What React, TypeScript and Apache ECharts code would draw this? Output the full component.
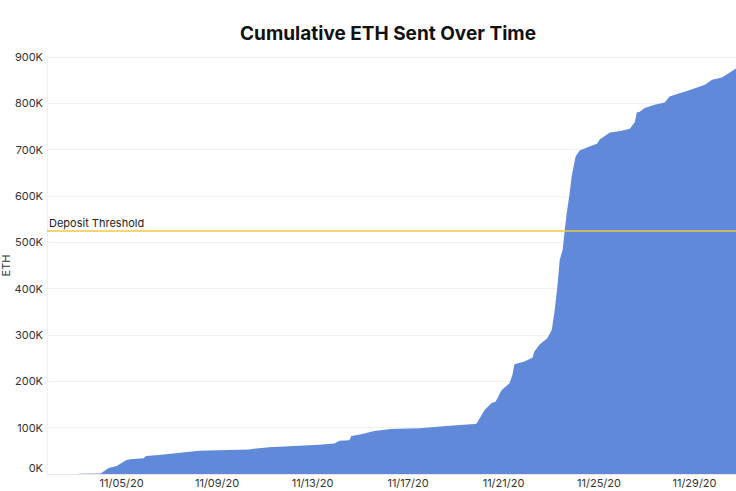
import { useEffect, useRef } from 'react';
import * as echarts from 'echarts';

// sample times (UTC, Nov 2020) and cumulative ETH
const times = [
  '11-03 05:00', '11-04 03:00', '11-04 11:00', '11-04 19:00', '11-05 05:00',
  '11-05 09:00', '11-05 22:00', '11-06 00:30', '11-06 13:30', '11-08 06:00',
  '11-10 08:00', '11-11 04:00', '11-13 07:00', '11-13 22:00', '11-14 03:00',
  '11-14 13:00', '11-14 15:00', '11-15 01:00', '11-15 14:00', '11-16 07:00',
  '11-16 15:00', '11-17 11:30', '11-18 18:00', '11-19 19:00', '11-19 21:00',
  '11-20 05:00', '11-20 12:00', '11-20 16:00', '11-20 22:00', '11-21 06:00',
  '11-21 09:00', '11-21 11:00', '11-21 21:00', '11-22 05:00', '11-22 07:00',
  '11-22 12:00', '11-22 20:00', '11-23 00:30', '11-23 03:30', '11-23 06:30',
  '11-23 08:30', '11-23 11:30', '11-23 13:30', '11-23 15:30', '11-23 18:30',
  '11-23 20:30', '11-24 00:30', '11-24 04:30', '11-24 14:30', '11-24 22:00',
  '11-25 00:45', '11-25 11:00', '11-25 23:00', '11-26 07:00', '11-26 12:00',
  '11-26 14:00', '11-26 17:00', '11-26 22:00', '11-27 08:00', '11-27 18:00',
  '11-27 23:00', '11-28 09:00', '11-28 19:30', '11-29 10:30', '11-29 17:45',
  '11-30 03:30', '11-30 09:30', '11-30 17:45',
];

const ethSent = [
  800, 1000, 13000, 17000, 30000,
  32000, 34000, 39000, 41000, 50000,
  53000, 58000, 63000, 66000, 72000,
  73000, 82000, 86000, 93000, 97000,
  97500, 99000, 104000, 108000, 109000,
  138000, 153000, 156000, 181000, 196000,
  214000, 237000, 243000, 251000, 264000,
  279000, 293000, 311000, 354000, 412000,
  462000, 484000, 525000, 563000, 606000,
  642000, 685000, 698000, 707000, 713000,
  722000, 737000, 741000, 745000, 759000,
  780000, 782000, 790000, 797000, 802000,
  815000, 822000, 829000, 840000, 851000,
  856000, 864000, 875000,
];

const tickDates = ['11-05', '11-09', '11-13', '11-17', '11-21', '11-25', '11-29'];
const yTicks = [0, 100000, 200000, 300000, 400000, 500000, 600000, 700000, 800000, 900000];
const DEPOSIT_THRESHOLD = 524288;

const toMs = (s: string) => {
  const [md, hm = '00:00'] = s.split(' ');
  const [mo, d] = md.split('-').map(Number);
  const [h, mi] = hm.split(':').map(Number);
  return Date.UTC(2020, mo - 1, d, h, mi);
};

const fmtDate = (v: number) => {
  const d = new Date(v);
  const mm = String(d.getUTCMonth() + 1).padStart(2, '0');
  const dd = String(d.getUTCDate()).padStart(2, '0');
  return `${mm}/${dd}/20`;
};

const FONT = 'Inter, "Noto Sans", sans-serif';

export default function App() {
  const chartRef = useRef<HTMLDivElement>(null);

  useEffect(() => {
    if (!chartRef.current) return;
    const chart = echarts.init(chartRef.current, null, { renderer: 'svg' });

    const option: echarts.EChartsOption = {
      animation: false,
      backgroundColor: '#ffffff',
      textStyle: { fontFamily: FONT },
      title: {
        text: 'Cumulative ETH Sent Over Time',
        left: 383,
        top: 19,
        textAlign: 'center',
        textStyle: { fontSize: 19, fontWeight: 700, color: '#111', fontFamily: FONT },
      },
      grid: {
        left: 47,
        right: 0,
        top: 57,
        bottom: 17,
        containLabel: false,
        outerBoundsMode: 'none',
      } as any,
      xAxis: {
        type: 'value',
        min: toMs('11-01 21:00'),
        max: toMs('11-30 17:45'),
        axisLine: { show: true, lineStyle: { color: '#e6e6e6', width: 1 } },
        axisTick: { show: false },
        splitLine: { show: false },
        axisLabel: {
          customValues: tickDates.map(toMs),
          formatter: (v: number) => fmtDate(v),
          color: '#333',
          fontSize: 11,
          margin: 3,
          fontFamily: FONT,
        },
      } as any,
      yAxis: {
        type: 'value',
        min: 0,
        max: 900000,
        interval: 100000,
        name: 'ETH',
        nameLocation: 'middle',
        nameGap: 36,
        nameMoveOverlap: false,
        nameTextStyle: { color: '#333', fontSize: 11, fontFamily: FONT },
        axisLine: { show: true, lineStyle: { color: '#f0f0f0' } },
        axisTick: { show: false },
        splitLine: { lineStyle: { color: '#f0f0f0', width: 1 } },
        axisLabel: {
          color: '#333',
          fontSize: 11,
          margin: 4,
          fontFamily: FONT,
          formatter: (v: number) =>
            v === yTicks[0] ? '{zero|0K}' : `${Math.round(v / 1000)}K`,
          rich: {
            zero: { fontSize: 11, color: '#333', fontFamily: FONT, padding: [0, 0, 12, 0] },
          },
        },
      } as any,
      series: [
        {
          type: 'line',
          data: times.map((t, i) => [toMs(t), ethSent[i]]),
          showSymbol: false,
          lineStyle: { width: 0 },
          areaStyle: { color: '#6189d9', opacity: 1 },
          markLine: {
            silent: true,
            symbol: 'none',
            lineStyle: { color: '#f2c744', width: 1.5, type: 'solid' },
            label: {
              position: 'insideStartTop',
              formatter: 'Deposit Threshold',
              color: '#222',
              fontSize: 11,
              fontFamily: FONT,
              distance: [2, 3],
            },
            data: [{ yAxis: DEPOSIT_THRESHOLD }],
          },
        },
      ],
    };

    chart.setOption(option);
    return () => chart.dispose();
  }, []);

  return (
    <div
      ref={chartRef}
      style={{ position: 'absolute', left: 0, top: 0, width: 736, height: 491 }}
    />
  );
}
